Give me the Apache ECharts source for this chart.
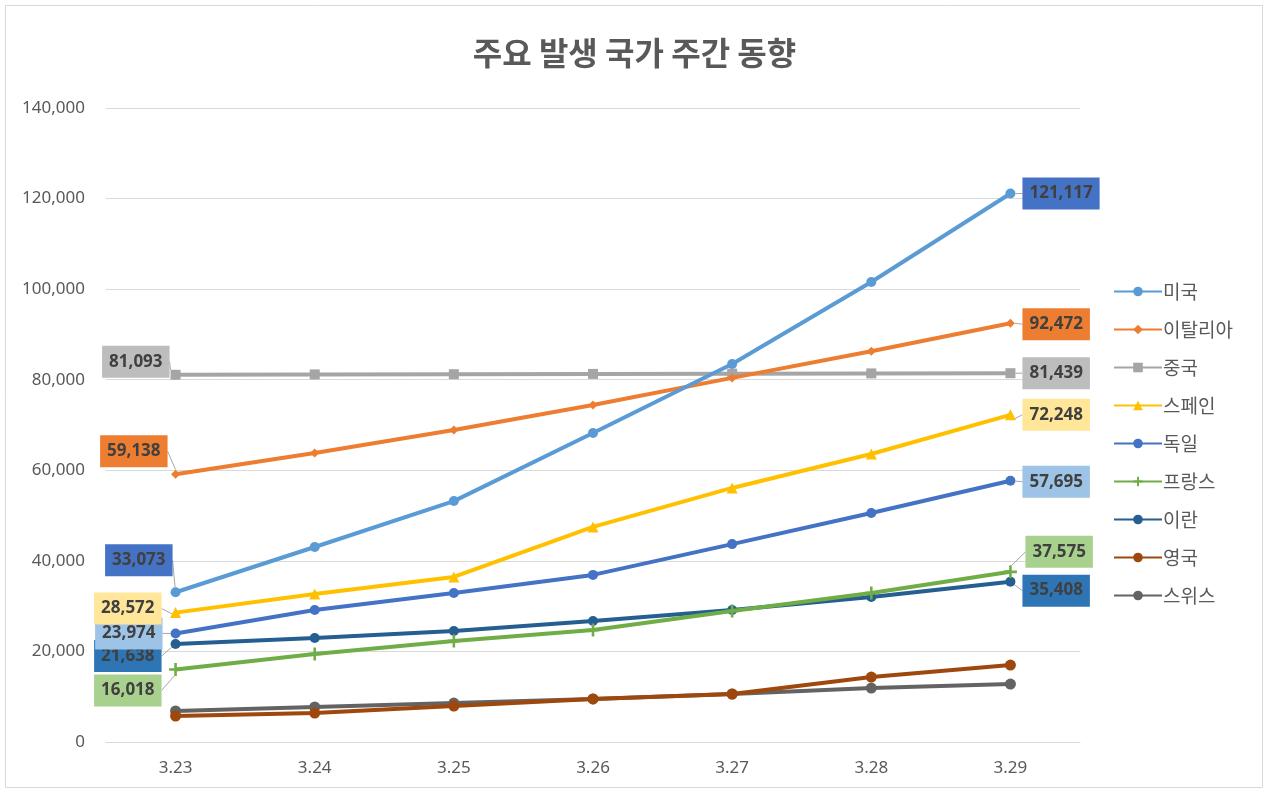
<!DOCTYPE html>
<html><head><meta charset="utf-8">
<script src="https://cdn.jsdelivr.net/npm/echarts@6/dist/echarts.min.js"></script>
<style>html,body{margin:0;padding:0;background:#fff}#c{width:1269px;height:793px}</style>
</head><body><div id="c"></div>
<script>
const categories = ['3.23','3.24','3.25','3.26','3.27','3.28','3.29'];
const usa = [33073, 43060, 53200, 68230, 83470, 101580, 121117];
const italy = [59138, 63820, 68900, 74400, 80400, 86300, 92472];
const china = [81093, 81171, 81218, 81285, 81340, 81394, 81439];
const spain = [28572, 32700, 36440, 47500, 56100, 63600, 72248];
const germany = [23974, 29150, 32900, 36900, 43700, 50570, 57695];
const france = [16018, 19430, 22300, 24730, 28930, 32900, 37575];
const iran = [21638, 22970, 24500, 26720, 29150, 32020, 35408];
const uk = [5740, 6400, 7950, 9500, 10600, 14350, 17000];
const swiss = [6850, 7730, 8600, 9500, 10600, 11900, 12800];

const names = ['미국','이탈리아','중국','스페인','독일','프랑스','이란','영국','스위스'];
const values = [usa, italy, china, spain, germany, france, iran, uk, swiss];
const colors = ['#5B9BD5','#ED7D31','#A5A5A5','#FFC000','#4472C4','#70AD47','#255E91','#9E480E','#636363'];
const labelBg = ['#4472C4','#ED7D31','#BDBDBD','#FFE699','#9DC3E6','#A9D18E','#2E75B6',null,null];
const symbols = ['circle','diamond','rect','triangle','circle','path://M4 0H6V4H10V6H6V10H4V6H0V4H4Z','circle','circle','circle'];
const symSizes = [10,9,10,11,10,13,10,11,11];
// label placement relative to point centre: [first dx(right edge), first dy, last dx(left edge), last dy]
const offs = [[-3,-32,12,0],[-8,-23,12,1],[-6,-13,12,0],[-14,-4,12,0],[-13,0,12,1],[-14,21,15,-20],[-14,12,12,9],null,null];

const chart = echarts.init(document.getElementById('c'));
const series = names.map((n, i) => {
  const hasLab = !!labelBg[i];
  const last = values[i].length - 1;
  return {
    name: n, type: 'line', data: values[i].map((v, j) => {
      const item = { value: v };
      if (hasLab && (j === 0 || j === last)) {
        item.label = { show: true, position: j === 0 ? 'left' : 'right' };
      }
      return item;
    }),
    color: colors[i],
    symbol: symbols[i], symbolSize: symSizes[i],
    lineStyle: { width: 4, color: colors[i] },
    itemStyle: { color: colors[i] },
    z: 10 - i,
    label: {
      show: false,
      formatter: p => p.value.toLocaleString('en-US'),
      backgroundColor: labelBg[i] || 'transparent',
      color: '#404040', fontSize: 17, fontWeight: 'bold', lineHeight: 18,
      fontFamily: 'Noto Sans, sans-serif',
      padding: [7, 7, 7, 7]
    },
    labelLine: { show: true, lineStyle: { color: '#A6A6A6', width: 1 } },
    labelLayout: hasLab ? (p => {
      const o = offs[i];
      const cx = p.rect.x + p.rect.width / 2;
      const cy = p.rect.y + p.rect.height / 2;
      if (p.dataIndex === 0) return { x: cx + o[0], y: cy + o[1], align: 'right', verticalAlign: 'middle' };
      return { x: cx + o[2], y: cy + o[3], align: 'left', verticalAlign: 'middle' };
    }) : undefined
  };
});

chart.setOption({
  animation: false,
  title: { text: '주요 발생 국가 주간 동향', left: 'center', top: 32,
    textStyle: { fontSize: 32, fontWeight: 'bold', color: '#595959', fontFamily: 'Noto Sans CJK KR' } },
  graphic: [{ type: 'rect', shape: { x: 5.5, y: 5.5, width: 1257, height: 782 },
    style: { fill: 'none', stroke: '#D9D9D9', lineWidth: 1 }, silent: true }],
  grid: { left: 106, right: 189, top: 108, bottom: 51 },
  legend: { orient: 'vertical', left: 1108, top: 277, itemWidth: 48, itemHeight: 12, itemGap: 19,
    textStyle: { fontSize: 19, color: '#595959', fontFamily: 'Noto Sans CJK KR', padding: [0,0,0,-4] },
    data: names },
  xAxis: { type: 'category', data: categories, boundaryGap: true,
    axisLine: { lineStyle: { color: '#D9D9D9' } }, axisTick: { show: false },
    axisLabel: { color: '#595959', fontSize: 17, margin: 18, fontFamily: 'Noto Sans' } },
  yAxis: { type: 'value', min: 0, max: 140000, interval: 20000,
    axisLine: { show: false }, axisTick: { show: false },
    splitLine: { lineStyle: { color: '#D9D9D9' } },
    axisLabel: { color: '#595959', fontSize: 17, margin: 21, fontFamily: 'Noto Sans',
      formatter: v => v.toLocaleString('en-US') } },
  series: series
});
</script></body></html>
